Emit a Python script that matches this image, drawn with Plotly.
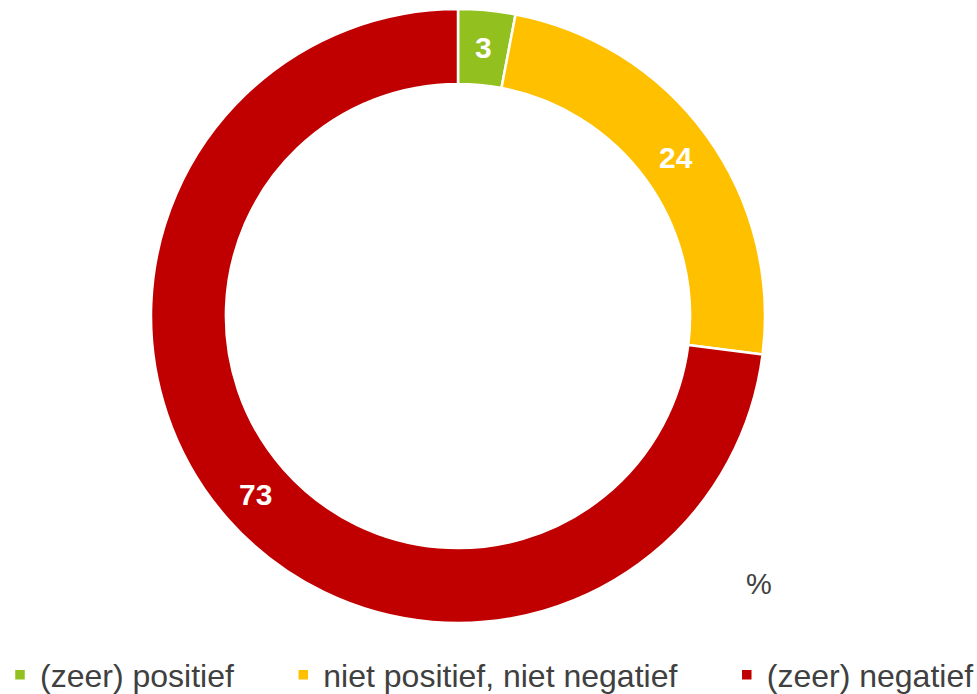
import math
import plotly.graph_objects as go

categories = ["(zeer) positief", "niet positief, niet negatief", "(zeer) negatief"]
values = [3, 24, 73]
colors = ["#92C01F", "#FFC000", "#C00000"]

W, H = 977, 694

def px_x(x):
    return x / W

def px_y(y):
    return (H - y) / H

# pie ring placement (pixels)
CX, CY, RO = 458, 316, 307
HOLE = 0.756

NB = "\u00a0"
pads = [5, 5, 0]
names = [c + NB * p for c, p in zip(categories, pads)]

fig = go.Figure(go.Pie(
    labels=names,
    values=values,
    hole=HOLE,
    sort=False,
    direction="clockwise",
    rotation=0,
    marker=dict(colors=colors, line=dict(color="white", width=2.5)),
    textinfo="none",
    hoverinfo="label+value",
    domain=dict(x=[px_x(CX - RO), px_x(CX + RO)], y=[px_y(CY + RO), px_y(CY - RO)]),
))

# value labels placed at the middle of each ring segment (computed from the data)
total = sum(values)
ann = []
cum = 0
rmid = RO * (1 + HOLE) / 2
for v in values:
    f = (cum + v / 2) / total
    th = 2 * math.pi * f
    ann.append(dict(
        text=f"<b>{v}</b>",
        x=px_x(CX + rmid * math.sin(th)), y=px_y(CY - rmid * math.cos(th)),
        xref="paper", yref="paper", showarrow=False,
        font=dict(size=30, color="white"), xanchor="center", yanchor="middle",
    ))
    cum += v

ann.append(dict(
    text="%", x=px_x(759), y=px_y(584), xref="paper", yref="paper",
    showarrow=False, font=dict(size=29, color="#404040"),
    xanchor="center", yanchor="middle",
))

fig.update_layout(
    width=W, height=H,
    margin=dict(l=0, r=0, t=0, b=0, autoexpand=False),
    paper_bgcolor="white",
    plot_bgcolor="white",
    font=dict(family="Liberation Sans, Arial, sans-serif", color="#404040"),
    showlegend=True,
    legend=dict(
        orientation="h",
        x=0, xanchor="left",
        y=px_y(675), yanchor="middle",
        font=dict(size=32, color="#404040"),
        bgcolor="rgba(0,0,0,0)",
    ),
    annotations=ann,
)

fig.write_html(
    "out.html",
    config={"displayModeBar": False},
    post_script="document.body.style.margin='0px';",
)
